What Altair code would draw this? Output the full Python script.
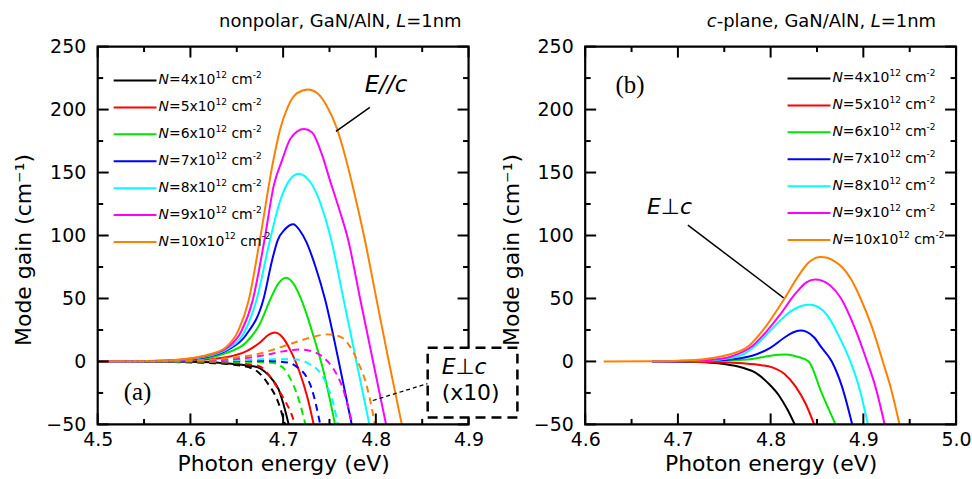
import altair as alt
import pandas as pd

FONT = "DejaVu Sans"
SERIF = "Liberation Serif"
W, H = 372, 379

N_VALUES = ["4", "5", "6", "7", "8", "9", "10"]
COLORS = ["#000000", "#ff0000", "#00e600", "#0000ff", "#00ffff", "#ff00ff", "#ff8000"]

Y_DOMAIN = [-50, 250]
Y_MAJOR = [-50, 0, 50, 100, 150, 200, 250]
Y_MINOR = [-25, 25, 75, 125, 175, 225]
XA_DOMAIN = [4.5, 4.9]
XA_MAJOR = [4.5, 4.6, 4.7, 4.8, 4.9]
XA_MINOR = [4.55, 4.65, 4.75, 4.85]
XB_DOMAIN = [4.6, 5.0]
XB_MAJOR = [4.6, 4.7, 4.8, 4.9, 5.0]
XB_MINOR = [4.65, 4.75, 4.85, 4.95]

# (a) nonpolar, E//c  (solid)
A_PAR_4 = [(4.50, 0), (4.55, 0), (4.60, -0.3), (4.63, -1), (4.65, -2.2), (4.672, -4.5), (4.68, -8),
           (4.688, -14), (4.695, -22), (4.700, -33), (4.706, -50)]
A_PAR_5 = [(4.50, 0), (4.55, 0.1), (4.58, 0.3), (4.60, 0.8), (4.62, 1.7), (4.64, 3.5), (4.66, 8),
           (4.675, 15), (4.685, 21.5), (4.691, 23), (4.697, 21), (4.702, 16.5), (4.707, 10),
           (4.711, 4), (4.718, -9), (4.726, -28), (4.733, -50)]
A_PAR_6 = [(4.50, 0), (4.55, 0.15), (4.58, 0.5), (4.60, 1.3), (4.62, 3), (4.64, 7), (4.66, 15),
           (4.675, 30), (4.686, 49), (4.695, 62), (4.703, 66.5), (4.71, 63), (4.718, 52), (4.726, 36),
           (4.734, 17), (4.743, -6), (4.756, -50)]
A_PAR_7 = [(4.50, 0), (4.55, 0.2), (4.58, 0.7), (4.60, 1.7), (4.62, 4), (4.64, 9), (4.66, 21),
           (4.679, 50), (4.688, 80), (4.694, 96), (4.702, 105), (4.711, 109), (4.718, 104),
           (4.725, 95), (4.735, 75), (4.745, 50), (4.760, 0), (4.774, -50)]
A_PAR_8 = [(4.50, 0), (4.55, 0.25), (4.58, 0.8), (4.60, 2), (4.62, 4.5), (4.64, 10), (4.658, 23),
           (4.671, 48), (4.686, 97), (4.697, 128), (4.706, 143), (4.717, 149), (4.725, 146),
           (4.733, 138), (4.740, 126), (4.752, 96), (4.765, 50), (4.779, 0), (4.793, -50)]
A_PAR_9 = [(4.50, 0), (4.55, 0.3), (4.58, 0.9), (4.60, 2.2), (4.62, 5), (4.64, 11), (4.655, 24),
           (4.667, 48), (4.680, 97), (4.690, 140), (4.699, 160), (4.708, 177), (4.7226, 184.5),
           (4.731, 182), (4.742, 164), (4.750, 145), (4.760, 122), (4.770, 97), (4.783, 50),
           (4.797, 0), (4.811, -50)]
A_PAR_10 = [(4.50, 0), (4.55, 0.3), (4.58, 1), (4.60, 2.5), (4.62, 5.5), (4.638, 11), (4.652, 25),
            (4.663, 49), (4.675, 97), (4.689, 158), (4.697, 185), (4.705, 202), (4.715, 213),
            (4.727, 216), (4.737, 213), (4.747, 203), (4.758, 185), (4.768, 160), (4.778, 130),
            (4.788, 97), (4.800, 52), (4.814, 0), (4.828, -50)]

# (a) nonpolar, E perp c (x10)  (dashed)
A_PERP_4 = [(4.53, 0), (4.58, -0.5), (4.62, -1.2), (4.646, -2.5), (4.668, -6), (4.683, -17),
            (4.695, -33), (4.702, -50)]
A_PERP_5 = [(4.53, 0), (4.60, -0.3), (4.64, -1), (4.66, -2), (4.675, -4), (4.685, -11), (4.693, -20),
            (4.701, -30), (4.708, -40), (4.713, -50)]
A_PERP_6 = [(4.53, 0), (4.60, 0), (4.65, -0.2), (4.688, -1), (4.70, -5), (4.708, -14), (4.714, -24),
            (4.718, -33), (4.724, -50)]
A_PERP_7 = [(4.53, 0), (4.60, 0.2), (4.65, 0.5), (4.68, 0.5), (4.706, -1), (4.716, -5), (4.725, -12),
            (4.731, -22), (4.735, -33), (4.740, -50)]
A_PERP_8 = [(4.53, 0), (4.60, 0.3), (4.65, 1), (4.69, 1.8), (4.715, 1.5), (4.728, -2), (4.740, -9),
            (4.748, -20), (4.754, -33), (4.759, -50)]
A_PERP_9 = [(4.53, 0), (4.60, 0.5), (4.65, 2), (4.68, 5), (4.70, 8), (4.718, 9.5), (4.735, 7),
            (4.748, 0), (4.759, -12), (4.766, -25), (4.770, -36), (4.775, -50)]
A_PERP_10 = [(4.53, 0), (4.60, 0.8), (4.64, 2.5), (4.67, 5.5), (4.69, 9.5), (4.71, 14.5), (4.73, 19),
             (4.748, 21.5), (4.762, 19.5), (4.772, 12), (4.781, -1), (4.788, -14), (4.793, -28),
             (4.797, -42), (4.799, -50)]

# (b) c-plane, E perp c  (solid)
B_PERP_4 = [(4.672, 0), (4.72, -0.4), (4.75, -2), (4.77, -5), (4.784, -9), (4.797, -17), (4.809, -27),
            (4.818, -38), (4.826, -50)]
B_PERP_5 = [(4.672, 0), (4.74, -0.4), (4.77, -1.5), (4.79, -3), (4.801, -4.5), (4.815, -10),
            (4.827, -20), (4.838, -34), (4.847, -50)]
B_PERP_6 = [(4.672, 0), (4.72, 0.2), (4.75, 0.7), (4.78, 2), (4.80, 4.5), (4.809, 5.3), (4.816, 5.5),
            (4.824, 4.8), (4.83, 3.5), (4.841, 0), (4.855, -25), (4.870, -50)]
B_PERP_7 = [(4.672, 0), (4.72, 0.4), (4.75, 1.2), (4.78, 4.5), (4.80, 11), (4.815, 19), (4.824, 23),
            (4.832, 24.5), (4.839, 23.5), (4.847, 19), (4.855, 11), (4.866, 0), (4.877, -20), (4.888, -50)]
B_PERP_8 = [(4.672, 0), (4.72, 0.5), (4.75, 2), (4.77, 5.5), (4.783, 12), (4.803, 27), (4.822, 40),
            (4.833, 44), (4.842, 45), (4.849, 44), (4.857, 40), (4.866, 31), (4.875, 18), (4.886, 0),
            (4.896, -22), (4.905, -50)]
B_PERP_9 = [(4.672, 0), (4.72, 0.6), (4.75, 2.5), (4.765, 6), (4.780, 12), (4.797, 25), (4.81, 37),
            (4.828, 55), (4.839, 63), (4.848, 65), (4.856, 64), (4.864, 60.5), (4.876, 50), (4.890, 28),
            (4.904, 0), (4.913, -20), (4.923, -50)]
B_PERP_10 = [(4.62, 0), (4.67, 0.2), (4.70, 0.6), (4.73, 2), (4.75, 4.5), (4.776, 12), (4.792, 25),
             (4.815, 50), (4.83, 68), (4.841, 78.5), (4.848, 82), (4.854, 83), (4.861, 82.3),
             (4.869, 79.5), (4.877, 75), (4.887, 65), (4.897, 50), (4.909, 28), (4.921, 0), (4.930, -22),
             (4.939, -50)]

A_PAR = [A_PAR_4, A_PAR_5, A_PAR_6, A_PAR_7, A_PAR_8, A_PAR_9, A_PAR_10]
A_PERP = [A_PERP_4, A_PERP_5, A_PERP_6, A_PERP_7, A_PERP_8, A_PERP_9, A_PERP_10]
B_PERP = [B_PERP_4, B_PERP_5, B_PERP_6, B_PERP_7, B_PERP_8, B_PERP_9, B_PERP_10]

ONE = pd.DataFrame({"a": [0]})

# DejaVu Sans advance widths (em) for the legend label pieces
ADV = {"=": 0.838, "x": 0.592, "c": 0.550, "m": 0.974, "-": 0.361, " ": 0.318}
ADV.update({d: 0.636 for d in "0123456789"})


def text_width(s, size):
    return sum(ADV.get(ch, 0.6) for ch in s) * size


def curves_df(curves):
    rows = []
    for n, pts in zip(N_VALUES, curves):
        for e, g in pts:
            rows.append({"E": e, "G": g, "N": n})
    return pd.DataFrame(rows)


COLOR = alt.Color("N:N", scale=alt.Scale(domain=N_VALUES, range=COLORS), legend=None)


def txt(s, x, y, size=18, style="normal", align="left", font=FONT):
    return alt.Chart(ONE).mark_text(text=s, fontSize=size, font=font, fontStyle=style, align=align,
                                    baseline="middle", color="black").encode(
        x=alt.value(x), y=alt.value(y))


def seg(x1, y1, x2, y2, color="black", width=1.5, dash=None):
    kw = dict(color=color, strokeWidth=width)
    if dash:
        kw["strokeDash"] = dash
    return alt.Chart(ONE).mark_rule(**kw).encode(
        x=alt.value(x1), y=alt.value(y1), x2=alt.value(x2), y2=alt.value(y2))


def box(x1, y1, x2, y2):
    return alt.Chart(ONE).mark_rect(color="black", strokeWidth=0).encode(
        x=alt.value(x1), x2=alt.value(x2), y=alt.value(y1), y2=alt.value(y2))


def legend(x0, y0):
    F, f, up = 14, 9, 5.5
    layers = []
    for i, (n, c) in enumerate(zip(N_VALUES, COLORS)):
        y = y0 + 27 * i
        layers.append(seg(x0, y, x0 + 43, y, color=c, width=2))
        x = x0 + 45
        layers.append(txt("N", x, y, F, "italic"))
        x += 0.748 * F
        main = f"={n}x10"
        layers.append(txt(main, x, y, F))
        x += text_width(main, F)
        layers.append(txt("12", x, y - up, f))
        x += text_width("12", f) + text_width(" ", F)
        layers.append(txt("cm", x, y, F))
        x += text_width("cm", F)
        layers.append(txt("-2", x, y - up, f))
    return layers


def frame_and_ticks(xdom, xmaj, xmin):
    """Plot frame with inward ticks on all four sides (major 10 px, minor 5 px)."""
    def xpx(v):
        return round((v - xdom[0]) / (xdom[1] - xdom[0]) * W, 2)

    def ypx(v):
        return round(H - (v - Y_DOMAIN[0]) / (Y_DOMAIN[1] - Y_DOMAIN[0]) * H, 2)

    hw = 1.0
    out = [alt.Chart(ONE).mark_rect(filled=False, stroke="black", strokeWidth=2.2).encode(
        x=alt.value(0), x2=alt.value(W), y=alt.value(0), y2=alt.value(H))]
    for vals, ln in ((xmaj, 11), (xmin, 5.5)):
        for v in vals:
            p = xpx(v)
            out.append(box(p - hw, H - ln, p + hw, H))
            out.append(box(p - hw, 0, p + hw, ln))
    for vals, ln in ((Y_MAJOR, 11), (Y_MINOR, 5.5)):
        for v in vals:
            p = ypx(v)
            out.append(box(0, p - hw, ln, p + hw))
            out.append(box(W - ln, p - hw, W, p + hw))
    return out


def base_layers(xdom, xmajor, solid_curves, dashed_curves=None):
    xenc = alt.X("E:Q", scale=alt.Scale(domain=xdom, nice=False, zero=False),
                 axis=alt.Axis(values=xmajor, format=".1f", title="Photon energy (eV)"))
    yenc = alt.Y("G:Q", scale=alt.Scale(domain=Y_DOMAIN, nice=False, zero=False),
                 axis=alt.Axis(values=Y_MAJOR, title="Mode gain (cm\u207b\u00b9)", titleY=203.5))
    layers = [alt.Chart(curves_df(solid_curves)).mark_line(
        clip=True, strokeWidth=2, interpolate="monotone").encode(
        x=xenc, y=yenc, color=COLOR, detail="N:N")]
    if dashed_curves is not None:
        layers.append(alt.Chart(curves_df(dashed_curves)).mark_line(
            clip=True, strokeWidth=2, interpolate="monotone", strokeDash=[7, 5]).encode(
            x="E:Q", y="G:Q", color=COLOR, detail="N:N"))
    return layers


# ---------- panel (a)
left_layers = base_layers(XA_DOMAIN, XA_MAJOR, A_PAR, A_PERP)
left_layers += frame_and_ticks(XA_DOMAIN, XA_MAJOR, XA_MINOR)
left_layers += legend(16, 34)
left_layers += [
    txt("E//c", 268, 39, 23, "italic"),
    seg(273, 61, 239, 85, width=1.5),
    txt("(a)", 40, 347, 25, font=SERIF, align="center"),
    seg(276, 355, 331, 338, width=1.3, dash=[4, 3]),
    alt.Chart(ONE).mark_rect(fill="white", stroke="black", strokeWidth=2.5, strokeDash=[10, 6]).encode(
        x=alt.value(331), x2=alt.value(421), y=alt.value(302), y2=alt.value(372)),
    txt("E\u22a5c", 345, 321, 22, "italic"),
    txt("(x10)", 345, 348, 22),
    txt("=1nm", 365, -25, 18, align="right"),
    txt("L", 309.5, -25, 18, "italic", align="right"),
    txt("nonpolar, GaN/AlN,", 293.8, -25, 18, align="right"),
]
left = alt.layer(*left_layers).properties(width=W, height=H)

# ---------- panel (b)
right_layers = base_layers(XB_DOMAIN, XB_MAJOR, B_PERP)
right_layers += frame_and_ticks(XB_DOMAIN, XB_MAJOR, XB_MINOR)
right_layers += legend(203, 32)
right_layers += [
    txt("(b)", 45, 39, 25, font=SERIF, align="center"),
    txt("E\u22a5c", 62, 161, 22, "italic"),
    seg(103, 179, 199, 252, width=1.5),
    txt("=1nm", 352, -25, 18, align="right"),
    txt("L", 296.5, -25, 18, "italic", align="right"),
    txt("-plane, GaN/AlN,", 280.8, -25, 18, align="right"),
    txt("c", 131.9, -25, 18, "italic", align="right"),
]
right = alt.layer(*right_layers).properties(width=W, height=H)

chart = alt.hconcat(left, right, spacing=117, bounds="flush").properties(
    padding={"left": 12, "top": 12, "right": 0, "bottom": 0}
).configure_view(stroke=None).configure_axis(
    grid=False, ticks=False, domain=False, labelFont=FONT, titleFont=FONT,
    labelFontSize=19, titleFontSize=22, titleFontWeight="normal",
    labelColor="black", titleColor="black", labelFlush=False, labelOverlap=False
).configure_axisX(labelPadding=6, titlePadding=4).configure_axisY(labelPadding=12, titlePadding=10)

chart.save("out.html", embed_options={"renderer": "svg", "actions": False})
